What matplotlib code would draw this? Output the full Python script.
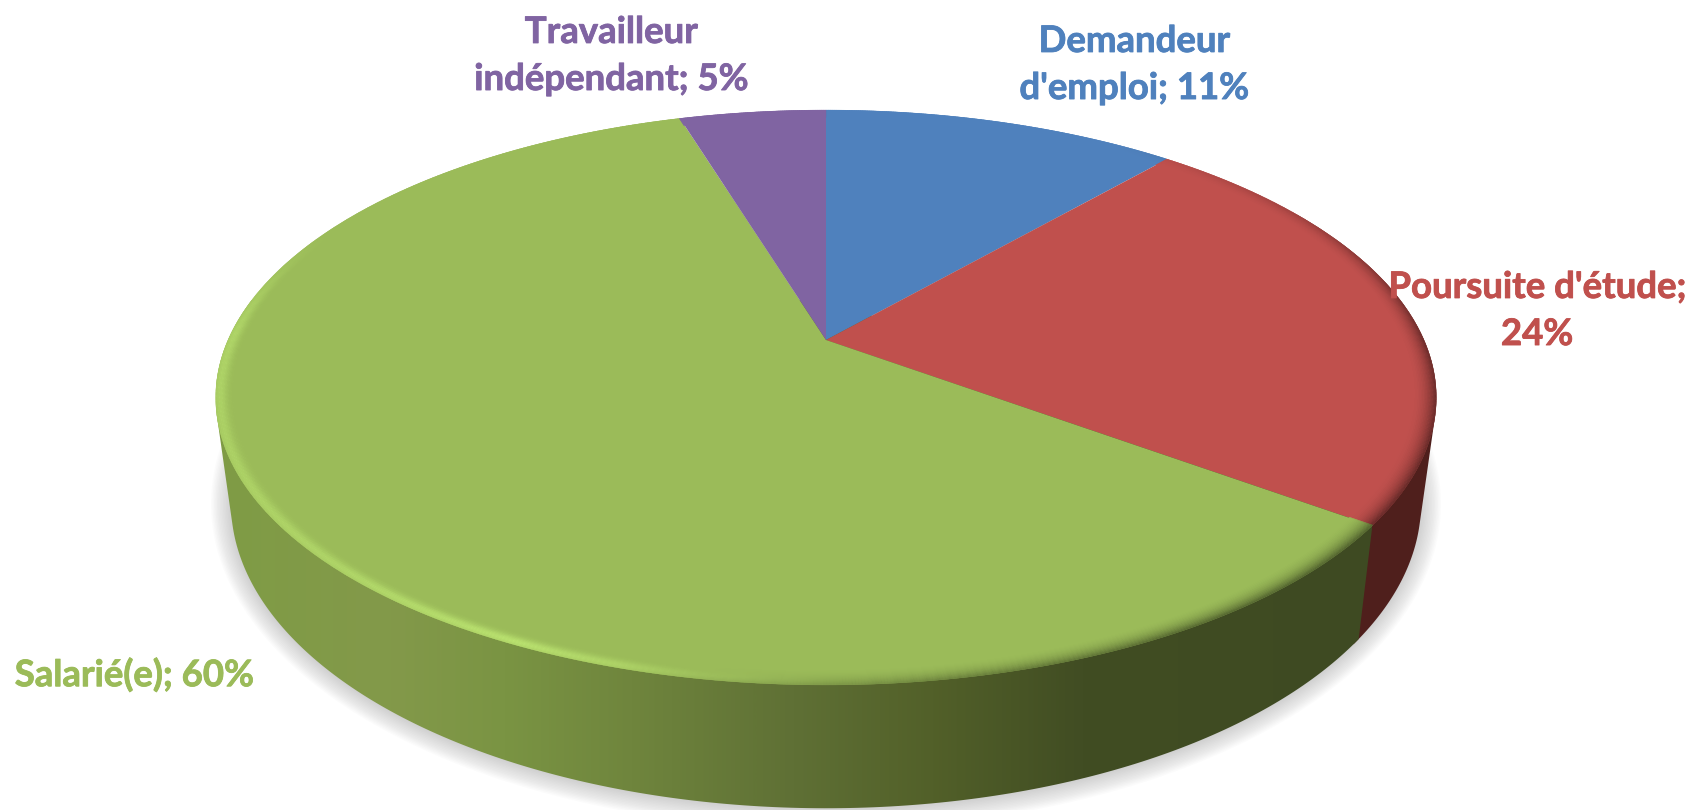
import numpy as np
import matplotlib
matplotlib.use('Agg')
import matplotlib.pyplot as plt
import matplotlib.patheffects as pe
from matplotlib.collections import PolyCollection
from matplotlib.colors import LinearSegmentedColormap, to_rgb
from matplotlib.patches import Polygon

# data, clockwise from 12 o'clock
categories = ["Demandeur\nd'emploi", "Poursuite d'étude", "Salarié(e)", "Travailleur\nindépendant"]
values = [11.4, 23.7, 60.2, 4.7]
label_texts = ["Demandeur\nd'emploi; 11%", "Poursuite d'étude;\n24%", "Salarié(e); 60%", "Travailleur\nindépendant; 5%"]
slice_colors = ['#4f81bd', '#c0504d', '#9bbb59', '#8064a2']
label_pos = [(1134, 65), (1537, 311), (134, 675), (611, 56)]

CX = 826
K = 0.2
TOP = (598, 276, 340)      # a, b, c of the top face
BOTTOM = (583, 293, 442)   # same for the lower rim


def project(theta, r, geom):
    # theta in degrees clockwise from the top, tilted circle to pixels
    a, b, c = geom
    t = np.radians(theta)
    x = r * np.sin(t)
    y = r * np.cos(t)
    w = 1 + K * y
    return CX + a * x / w, c - b * y / w


def mix(c1, c2, f):
    return np.asarray(c1) * (1 - f) + np.asarray(c2) * f


def hull(x, y):
    # monotone chain, so the wall outline gets straight tangents
    pts = sorted(set(zip(x.tolist(), y.tolist())))

    def half(points):
        out = []
        for p in points:
            while len(out) > 1 and (out[-1][0] - out[-2][0]) * (p[1] - out[-2][1]) - (out[-1][1] - out[-2][1]) * (p[0] - out[-2][0]) <= 0:
                out.pop()
            out.append(p)
        return out[:-1]

    return np.array(half(pts) + half(pts[::-1]))


def wall_outline(t0, t1):
    t = np.linspace(t0, t1, 300)
    xu, yu = project(t, 1, TOP)
    xl, yl = project(t, 1, BOTTOM)
    return hull(np.r_[xu, xl], np.r_[yu, yl])


fig = plt.figure(figsize=(16.91, 8.10), dpi=100)
ax = fig.add_axes([0, 0, 1, 1])

edges = np.concatenate([[0], np.cumsum(values)]) / np.sum(values) * 360

# soft shadow below the pie
for d in np.arange(20, 0, -1.5):
    t = np.linspace(0, 2 * np.pi, 300)
    ax.fill(CX + (595 + d) * np.cos(t), 504 + (305 + d) * np.sin(t), color='#808080', alpha=0.028, lw=0, zorder=1)

# side wall of the red slice
red = wall_outline(60, edges[2] + 1)
ax.fill(red[:, 0], red[:, 1], color='#4f1f1c', lw=0, zorder=2)

# side wall of the green slice, shaded from left to right
wall = Polygon(wall_outline(edges[2], 320), transform=ax.transData, fc='none', ec='none')
ax.add_patch(wall)
stops = [(0.0, '#7f9c45'), (0.15, '#83994a'), (0.25, '#7a9443'), (0.36, '#6f853d'),
         (0.5, '#5f7035'), (0.62, '#526029'), (0.75, '#414d23'), (1.0, '#3e4a22')]
cmap = LinearSegmentedColormap.from_list('wall', stops)
img = ax.imshow(np.linspace(0, 1, 512)[None, :], cmap=cmap, extent=(216, 1372, 810, 300), aspect='auto', zorder=3)
img.set_clip_path(wall)

# top face
for i, col in enumerate(slice_colors):
    t = np.linspace(edges[i], edges[i + 1], 200)
    x, y = project(t, 1, TOP)
    ax.fill(np.r_[CX, x], np.r_[TOP[2], y], color=col, lw=0, zorder=4)

# bevel along the rim: light on the front left, dark on the right
th = np.arange(0, 360, 0.25)
rad = np.linspace(0.962, 1.0, 17)
hl = np.interp(th, [178, 190, 205, 225, 250, 272, 285, 295], [0, 0.35, 0.95, 0.65, 0.55, 0.65, 0.25, 0])
sh = np.interp(th, [35, 60, 90, 126, 150, 170, 186, 196], [0, 0.3, 0.8, 0.85, 0.8, 0.55, 0.2, 0])
quads = []
quad_cols = []
for i in range(len(th)):
    t0, t1 = th[i], th[i] + 0.25
    idx = min(np.searchsorted(edges, t0 + 0.125, side='right') - 1, 3)
    face = np.array(to_rgb(slice_colors[idx]))
    dark = face * 0.42
    for j in range(len(rad) - 1):
        r0, r1 = rad[j], rad[j + 1]
        u = (j + 0.5) / (len(rad) - 1)
        xa, ya = project(np.array([t0, t1]), r0, TOP)
        xb, yb = project(np.array([t1, t0]), r1, TOP)
        quads.append(np.c_[np.r_[xa, xb], np.r_[ya, yb]])
        bell = np.exp(-((u - 0.82) / 0.3) ** 2)
        c = mix(face, to_rgb('#bde672') if idx == 2 else face, hl[i] * bell)
        c = mix(c, dark, sh[i] * u ** 2.2)
        quad_cols.append(c)
ax.add_collection(PolyCollection(quads, facecolors=quad_cols, edgecolors=quad_cols, linewidths=0.2, zorder=5))

for i, txt in enumerate(label_texts):
    ax.text(label_pos[i][0], label_pos[i][1], txt, color=slice_colors[i], fontsize=26.3,
            family='Lato', fontweight='bold', ha='center', va='center', linespacing=1.52,
            multialignment='center', zorder=6,
            path_effects=[pe.withStroke(linewidth=0.6, foreground=slice_colors[i])])

ax.set_xlim(0, 1691)
ax.set_ylim(810, 0)
ax.axis('off')
fig.savefig('out.png', dpi=100)
